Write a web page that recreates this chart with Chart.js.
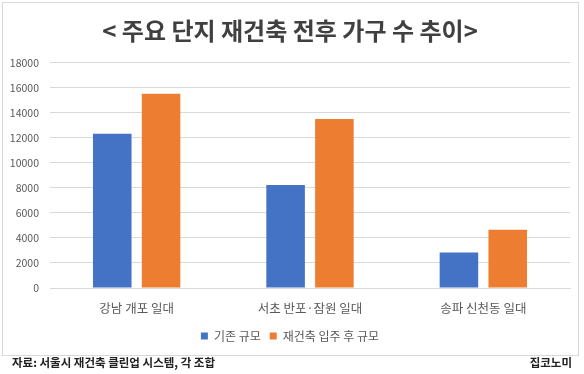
<!DOCTYPE html>
<html>
<head>
<meta charset="utf-8">
<script src="https://cdn.jsdelivr.net/npm/chart.js@4"></script>
<style>
  body { margin: 0; background: #fff; }
  #wrap { position: relative; width: 584px; height: 374px; overflow: hidden; font-family: "Noto Sans CJK KR", sans-serif; }
  #frame { position: absolute; left: 2px; top: 2px; width: 575px; height: 352px; border: 1px solid #d9d9d9; }
  #frame canvas { display: block; }
  .note { position: absolute; top: 354px; font-size: 11.5px; font-weight: bold; color: #222; line-height: 16px; }
  #source { left: 12px; }
  #brand { right: 12px; }
</style>
</head>
<body>
<div id="wrap">
  <div id="frame"><canvas id="chart" width="575" height="352"></canvas></div>
  <div class="note" id="source">자료: 서울시 재건축 클린업 시스템, 각 조합</div>
  <div class="note" id="brand">집코노미</div>
</div>
<script>
const titleText = '< 주요 단지 재건축 전후 가구 수 추이>';
const regions = ['강남 개포 일대', '서초 반포·잠원 일대', '송파 신천동 일대'];
const seriesNames = ['기존 규모', '재건축 입주 후 규모'];
const beforeHouseholds = [12320, 8240, 2830];
const afterHouseholds = [15520, 13500, 4660];
const seriesColors = ['#4472C4', '#ED7D31'];

const korean = '"Noto Sans CJK KR", sans-serif';

new Chart(document.getElementById('chart'), {
    type: 'bar',
    data: {
        labels: regions,
        datasets: [
            { label: seriesNames[0], data: beforeHouseholds, backgroundColor: seriesColors[0] },
            { label: seriesNames[1], data: afterHouseholds, backgroundColor: seriesColors[1] }
        ]
    },
    options: {
        responsive: false,
        animation: false,
        datasets: {
            bar: { categoryPercentage: 0.563, barPercentage: 0.79 }
        },
        layout: { padding: { left: 7, right: 8, bottom: 3 } },
        plugins: {
            title: {
                display: true,
                text: titleText,
                color: '#404040',
                font: { family: korean, size: 24, weight: 'bold' },
                padding: { top: 13, bottom: 18 }
            },
            legend: {
                position: 'bottom',
                labels: {
                    color: '#595959',
                    font: { family: korean, size: 12 },
                    boxWidth: 7,
                    boxHeight: 7,
                    padding: 9
                }
            },
            tooltip: { enabled: false }
        },
        scales: {
            x: {
                grid: { display: false },
                border: { color: '#d9d9d9' },
                ticks: { color: '#595959', font: { family: korean, size: 12.5 }, padding: 5 }
            },
            y: {
                min: 0,
                max: 18000,
                afterFit: scale => { scale.width = 40; },
                ticks: {
                    stepSize: 2000,
                    color: '#595959',
                    font: { family: korean, size: 10.5 },
                    padding: 11,
                    callback: value => String(value)
                },
                grid: { color: '#d9d9d9', drawTicks: false },
                border: { display: false }
            }
        }
    }
});
</script>
</body>
</html>
